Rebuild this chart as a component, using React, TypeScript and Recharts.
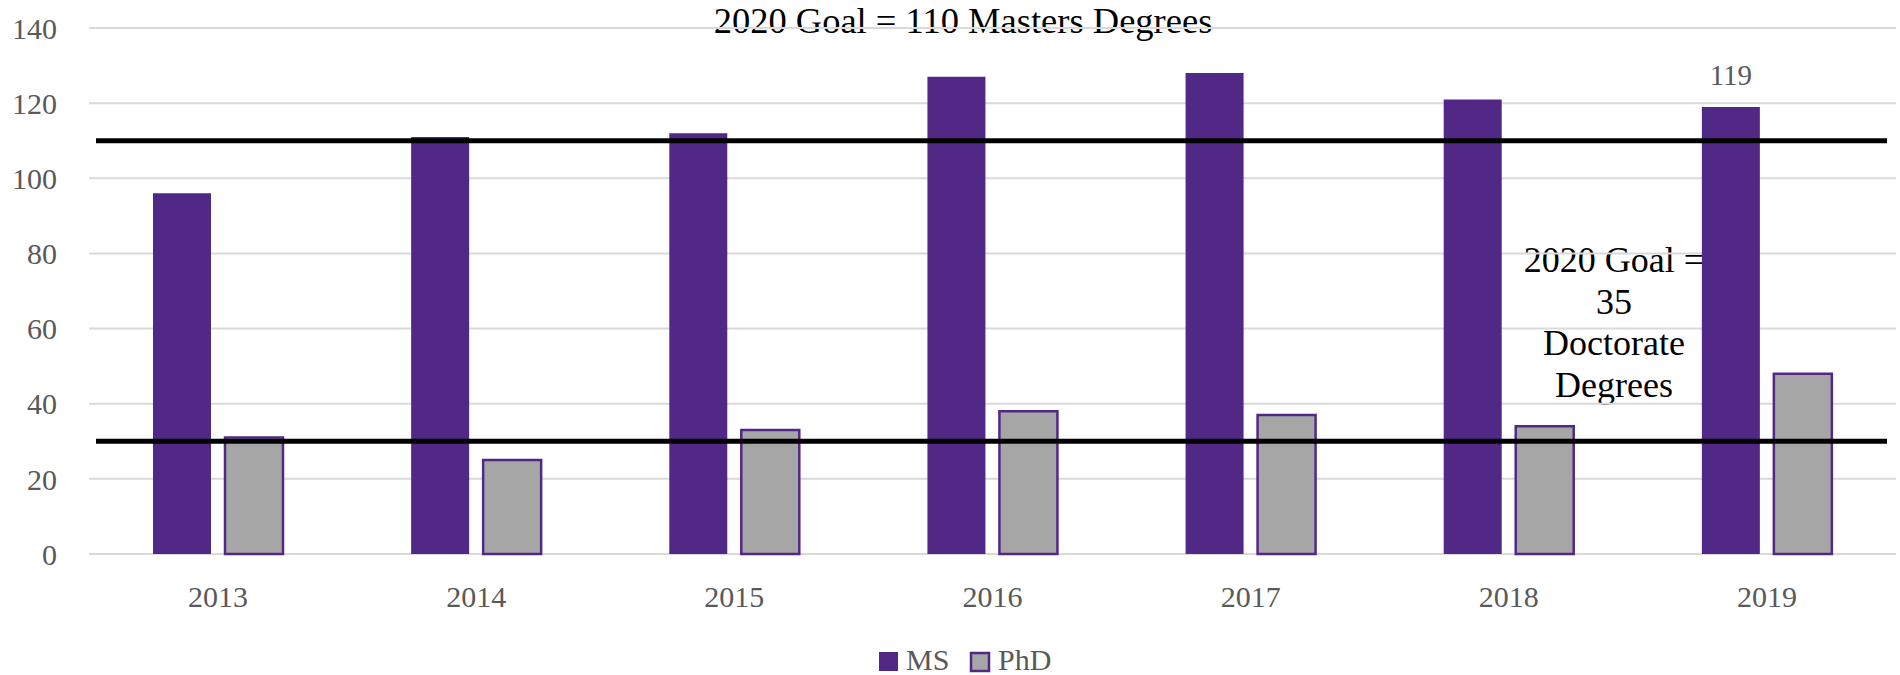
import { Bar, BarChart, CartesianGrid, ReferenceLine, XAxis, YAxis } from "recharts"

const YEARS = ["2013", "2014", "2015", "2016", "2017", "2018", "2019"]
const MS_DEGREES = [96, 111, 112, 127, 128, 121, 119]
const PHD_DEGREES = [31, 25, 33, 38, 37, 34, 48]
const Y_TICKS = [0, 20, 40, 60, 80, 100, 120, 140]
const MS_GOAL = 110
const PHD_GOAL = 30
const LABELLED_YEAR = "2019"
const TITLE = "2020 Goal = 110 Masters Degrees"
const PHD_NOTE = ["2020 Goal =", "35", "Doctorate", "Degrees"]

const PURPLE = "#522886"
const GREY = "#a6a6a6"
const TEXT_GREY = "#595959"
const FONT = "'Liberation Serif', 'Times New Roman', serif"

const chartData = YEARS.map((year, i) => ({
  year,
  ms: MS_DEGREES[i],
  phd: PHD_DEGREES[i],
}))

const GoalLine = (props: any) => {
  const { x1, x2, y1 } = props
  const id = `goal-shadow-${Math.round(y1)}`
  return (
    <g>
      <defs>
        <filter id={id} x="-5%" y="-300%" width="110%" height="700%">
          <feGaussianBlur stdDeviation="1.8" />
        </filter>
      </defs>
      <line
        x1={x1 + 7}
        x2={x2 - 9}
        y1={y1 + 5}
        y2={y1 + 5}
        stroke="#000"
        strokeOpacity={0.45}
        strokeWidth={7}
        filter={`url(#${id})`}
      />
      <line x1={x1 + 7} x2={x2 - 9} y1={y1} y2={y1} stroke="#000" strokeWidth={5} />
    </g>
  )
}

const ValueLabel = (props: any) => {
  const { x, y, width, value, index } = props
  if (YEARS[index] !== LABELLED_YEAR) return null
  return (
    <text
      x={x + width / 2}
      y={y - 22}
      textAnchor="middle"
      fontFamily={FONT}
      fontSize={29}
      fill={TEXT_GREY}
    >
      {value}
    </text>
  )
}

export default function App() {
  const tickStyle = { fontFamily: FONT, fontSize: 30, fill: TEXT_GREY }
  return (
    <div
      style={{
        position: "absolute",
        left: 0,
        top: 0,
        width: 1900,
        height: 675,
        background: "#fff",
        overflow: "hidden",
      }}
    >
      {/* annotations sit behind the bars, as in the original */}
      <svg width={1900} height={675} style={{ position: "absolute", left: 0, top: 0 }}>
        <text x={963} y={33} textAnchor="middle" fontFamily={FONT} fontSize={36.5} fill="#000">
          {TITLE}
        </text>
        {PHD_NOTE.map((line, i) => (
          <text
            key={line}
            x={1614}
            y={272 + i * 41.5}
            textAnchor="middle"
            fontFamily={FONT}
            fontSize={36}
            fill="#000"
          >
            {line}
          </text>
        ))}
      </svg>

      <div style={{ position: "absolute", left: 0, top: 0 }}>
        <BarChart
          width={1900}
          height={675}
          data={chartData}
          margin={{ top: 28, right: 4, left: 0, bottom: 0 }}
          barSize={58}
          barGap={14}
        >
          <CartesianGrid vertical={false} stroke="#d9d9d9" strokeWidth={2} />
          <XAxis
            dataKey="year"
            height={121}
            axisLine={false}
            tickLine={false}
            tickSize={0}
            tickMargin={32}
            tick={tickStyle}
            interval={0}
          />
          <YAxis
            domain={[0, 140]}
            ticks={Y_TICKS}
            width={89}
            axisLine={false}
            tickLine={false}
            tickSize={0}
            tickMargin={32}
            tick={tickStyle}
            interval={0}
          />
          <Bar
            dataKey="ms"
            name="MS"
            fill={PURPLE}
            isAnimationActive={false}
            label={<ValueLabel />}
          />
          <Bar
            dataKey="phd"
            name="PhD"
            fill={GREY}
            stroke={PURPLE}
            strokeWidth={2.5}
            isAnimationActive={false}
          />
          <ReferenceLine y={MS_GOAL} shape={<GoalLine />} />
          <ReferenceLine y={PHD_GOAL} shape={<GoalLine />} />
        </BarChart>
      </div>

      {/* legend */}
      <svg width={1900} height={675} style={{ position: "absolute", left: 0, top: 0, pointerEvents: "none" }}>
        <rect x={879} y={652} width={19} height={19} fill={PURPLE} />
        <text x={906} y={670} fontFamily={FONT} fontSize={30} fill={TEXT_GREY}>
          MS
        </text>
        <rect x={971} y={653} width={18} height={18} fill={GREY} stroke={PURPLE} strokeWidth={2.5} />
        <text x={998} y={670} fontFamily={FONT} fontSize={30} fill={TEXT_GREY}>
          PhD
        </text>
      </svg>
    </div>
  )
}
